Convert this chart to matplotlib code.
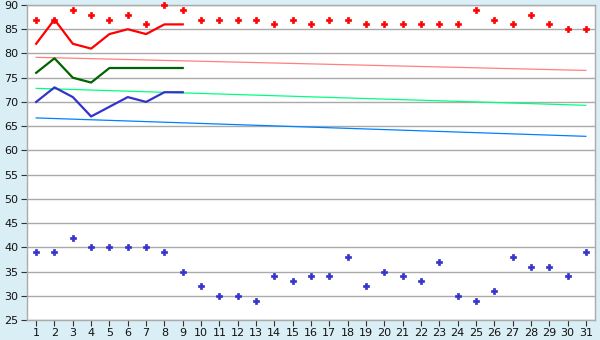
import matplotlib
matplotlib.use('Agg')
import matplotlib.pyplot as plt
import numpy as np

days = list(range(1, 32))

# scattered points (31 days)
high_pts = [87, 87, 89, 88, 87, 88, 86, 90, 89, 87, 87, 87, 87, 86, 87, 86,
            87, 87, 86, 86, 86, 86, 86, 86, 89, 87, 86, 88, 86, 85, 85]
low_pts = [39, 39, 42, 40, 40, 40, 40, 39, 35, 32, 30, 30, 29, 34, 33, 34,
           34, 38, 32, 35, 34, 33, 37, 30, 29, 31, 38, 36, 36, 34, 39]

# lines over first 9 days
red_line = [82, 87, 82, 81, 84, 85, 84, 86, 86]
green_line = [76, 79, 75, 74, 77, 77, 77, 77, 77]
blue_line = [70, 73, 71, 67, 69, 71, 70, 72, 72]

# trend lines, value at day 1 and day 31
trend_days = [1, 31]
red_trend = [79.2, 76.5]
green_trend = [72.8, 69.3]
blue_trend = [66.7, 62.9]

BG = '#daeef5'
GRID = '#aaaaaa'

fig = plt.figure(figsize=(6, 3.4), dpi=100, facecolor=BG)
ax = fig.add_axes([27/600, 20/340, 568/600, 315/340])
ax.set_facecolor('white')

ax.plot(trend_days, red_trend, color='#ff8080', lw=0.9, zorder=2)
ax.plot(trend_days, green_trend, color='#00ff80', lw=0.9, zorder=2)
ax.plot(trend_days, blue_trend, color='#0080ff', lw=0.9, zorder=2)

ax.plot(days[:9], red_line, color='#ff0000', lw=1.6, zorder=3)
ax.plot(days[:9], green_line, color='#006400', lw=1.6, zorder=3)
ax.plot(days[:9], blue_line, color='#3333cc', lw=1.6, zorder=3)

ax.plot(days, high_pts, ls='none', marker='P', ms=3.8, color='#ff0000',
        mec='#ff0000', mew=0.5, zorder=4, clip_on=False)
ax.plot(days, low_pts, ls='none', marker='P', ms=3.8, color='#3333cc',
        mec='#3333cc', mew=0.5, zorder=4, clip_on=False)

ax.set_xlim(0.5, 31.5)
ax.set_ylim(25, 90)
ax.set_yticks(np.arange(25, 91, 5))
ax.set_xticks(days)
ax.yaxis.grid(True, color=GRID, lw=1)
ax.set_axisbelow(True)
for s in ax.spines.values():
    s.set_color(GRID)
    s.set_linewidth(1)
ax.tick_params(axis='both', labelsize=8, color='#333333', length=4,
               labelcolor='#111111', pad=2)

fig.savefig('out.png', dpi=100, facecolor=BG)
